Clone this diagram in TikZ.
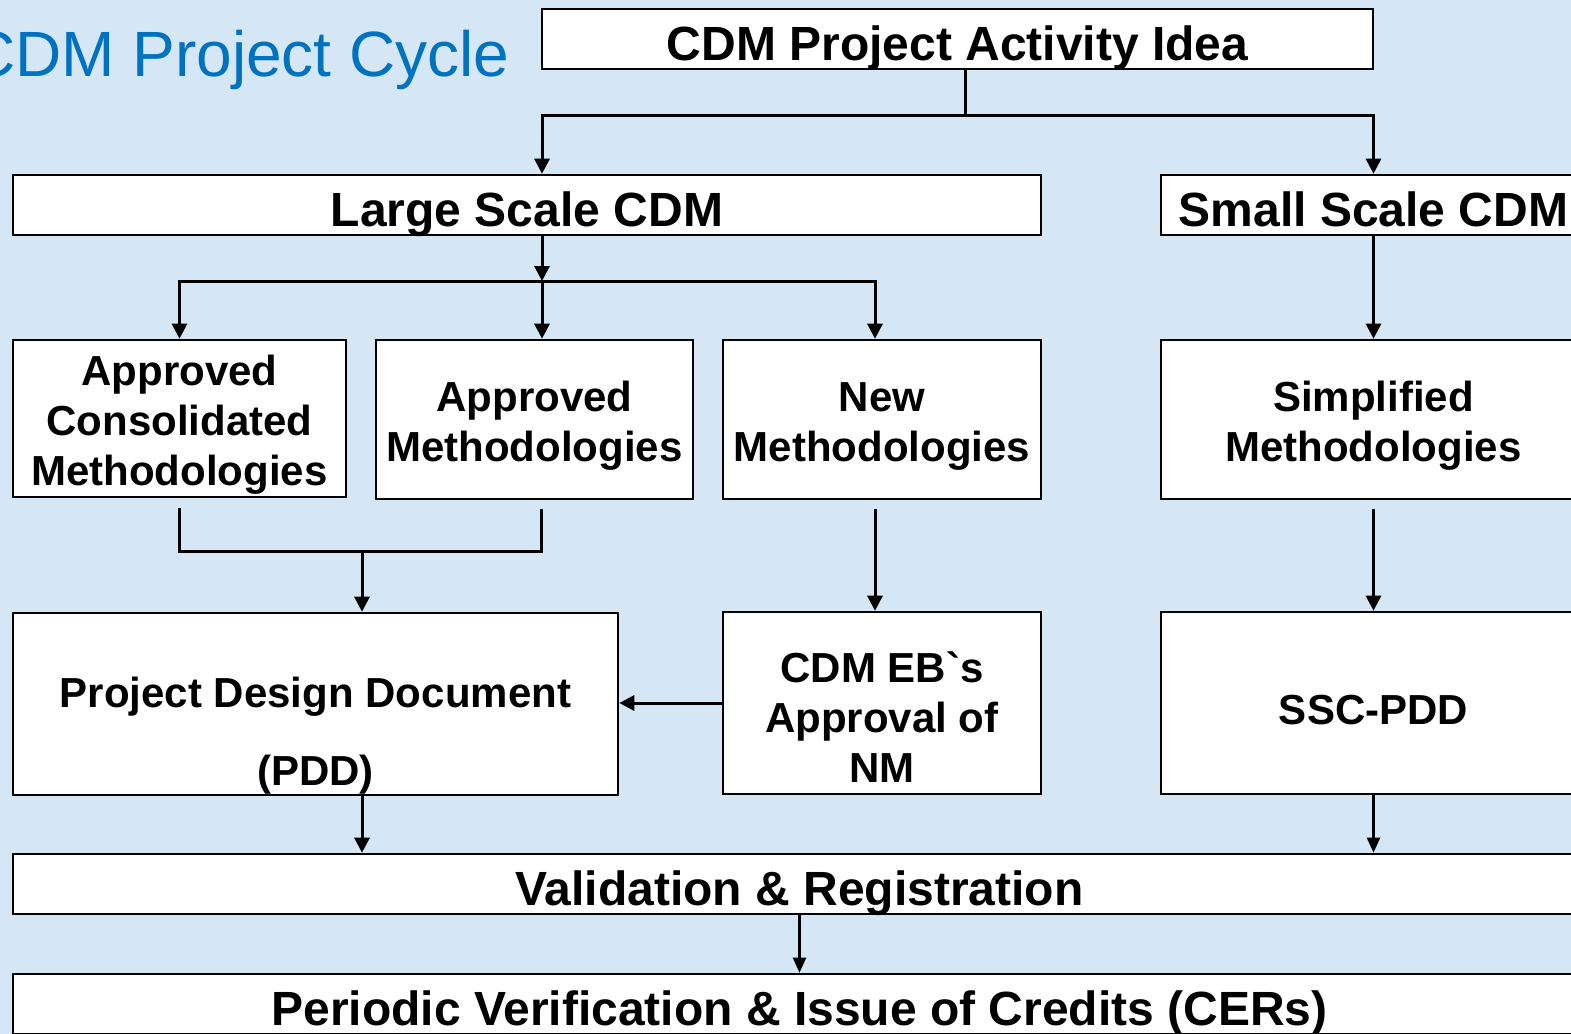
\documentclass[tikz,border=0pt]{standalone}
\usepackage{fontspec}
\setmainfont{Liberation Sans}
\usepackage{tikz}
\usetikzlibrary{arrows.meta}
\definecolor{bgblue}{RGB}{213,231,245}
\definecolor{titleblue}{RGB}{0,114,192}
\newcommand{\raisetop}[1]{\rule{0pt}{#1}}

\begin{document}
\begin{tikzpicture}[x=0.5pt,y=-0.5pt]
    \tikzset{box/.style = {draw, fill=white, line width=1.3pt, inner sep=0pt, align=center, font=\bfseries\fontsize{21}{25}\selectfont}}
    \tikzset{head/.style = {box, minimum height=30pt, text height=21pt, text depth=0pt, font=\bfseries\fontsize{24}{28}\selectfont}}
    \tikzset{edge/.style = {draw, line width=1.5pt}}
    \tikzset{arrow/.style = {edge, -{Triangle[length=7.5pt,width=7.5pt]}}}
    \tikzset{thinarrow/.style = {draw, line width=1.1pt, -{Triangle[length=7.5pt,width=6.5pt]}}}

    \useasboundingbox (0,0) rectangle (1571,1034);
    \clip (0,0) rectangle (1571,1034);
    \fill[bgblue] (0,0) rectangle (1571,1034);

    % title
    \node[anchor=base east, inner sep=0pt, text=titleblue, font=\fontsize{32}{38}\selectfont] (title) at (510,76) {CDM Project Cycle};

    % boxes
    \node[head, minimum width=415.5pt] (idea) at (957.5,39) {CDM Project Activity Idea};
    \node[head, minimum width=514pt] (large) at (527,205) {Large Scale CDM};
    \node[head, minimum width=212.5pt] (small) at (1373.5,205) {Small Scale CDM};

    \node[box, minimum width=166.5pt, minimum height=78.5pt] (acm) at (179.5,418.5) {\raisetop{21.5pt}Approved\\Consolidated\\Methodologies};
    \node[box, minimum width=158.5pt, minimum height=79.5pt] (am) at (534.5,419.5) {\raisetop{21.5pt}Approved\\Methodologies};
    \node[box, minimum width=159pt, minimum height=79.5pt] (nm) at (882,419.5) {\raisetop{21.5pt}New\\Methodologies};
    \node[box, minimum width=212.5pt, minimum height=79.5pt] (simp) at (1373.5,419.5) {\raisetop{21.5pt}Simplified\\Methodologies};

    \node[box, minimum width=302.5pt, minimum height=91pt] (pdd) at (315.5,704) {\raisetop{47pt}Project Design Document\\[14pt](PDD)};
    \node[box, minimum width=159pt, minimum height=91pt] (eb) at (882,703) {\raisetop{29.5pt}CDM EB\textasciigrave s\\Approval of\\NM};
    \node[box, minimum width=212.5pt, minimum height=91pt] (ssc) at (1373.5,703) {\raisetop{22pt}SSC-PDD};

    \node[head, minimum width=786.5pt] (val) at (799.5,884) {Validation \& Registration};
    \node[head, minimum width=786.5pt] (cer) at (799.5,1004) {Periodic Verification \& Issue of Credits (CERs)};

    % connectors
    \coordinate (a1) at (965,115);
    \coordinate (a2) at (542,281);
    \coordinate (a3) at (362,551);

    \draw[edge] (idea.south -| a1) -- (a1);
    \draw[arrow] (a1) -| (large.north -| a2);
    \draw[arrow] (a1) -| (small.north);
    \draw[arrow] (large.south -| a2) -- (a2);
    \draw[arrow] (a2) -| (acm.north);
    \draw[arrow] (a2) -- (am.north -| a2);
    \draw[arrow] (a2) -| ([xshift=-3.5pt]nm.north);
    \draw[arrow] (small.south) -- (simp.north);

    \draw[edge] ([yshift=-5pt]acm.south) |- ([xshift=3.5pt]am.south |- a3) -- ([xshift=3.5pt,yshift=-4.5pt]am.south);
    \draw[arrow] (a3) -- (pdd.north -| a3);
    \draw[arrow] ([xshift=-3.5pt,yshift=-4.5pt]nm.south) -- ([xshift=-3.5pt]eb.north);
    \draw[arrow] ([yshift=-4.5pt]simp.south) -- (ssc.north);
    \draw[arrow] (eb.west) -- (pdd.east |- eb.west);

    \draw[arrow] (pdd.south -| a3) -- (val.north -| a3);
    \draw[thinarrow] (ssc.south) -- (val.north -| ssc.south);
    \draw[thinarrow] (val.south -| cer.north) -- (cer.north);
\end{tikzpicture}
\end{document}
